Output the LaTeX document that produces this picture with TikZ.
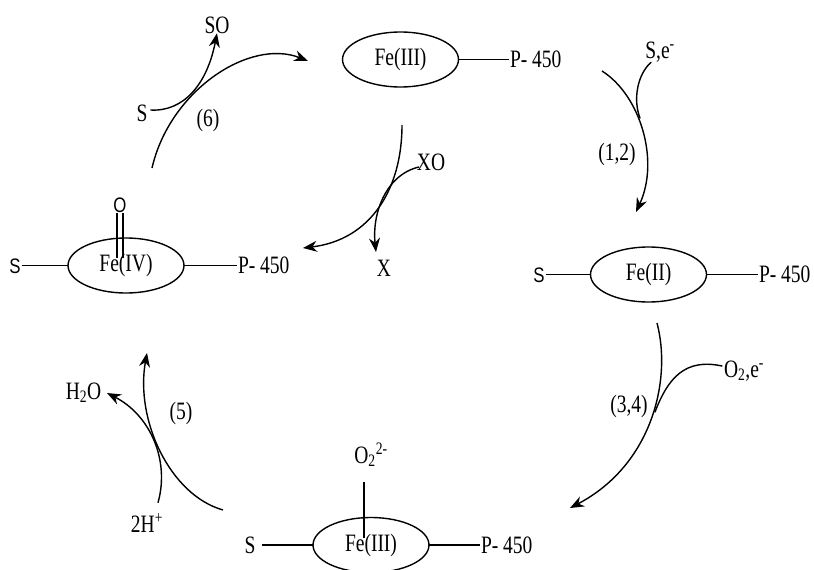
\documentclass[tikz,border=0pt]{standalone}
\usepackage{fontspec}
\setmainfont[FakeStretch=0.78]{Liberation Serif}
\newfontfamily\chemsans[FakeStretch=0.8]{Liberation Sans}
\usepackage{xcolor}
\usetikzlibrary{arrows.meta, positioning, shapes.geometric, calc}
\newcommand{\chemsize}{\fontsize{25}{28}\selectfont}
\begin{document}
\begin{tikzpicture}[
  x=1pt, y=-1pt,
  font=\chemsize,
  line width=1.4pt,
  haem/.style={ellipse, draw, minimum width=116pt, minimum height=55pt, inner sep=0pt, outer sep=0pt},
  chem/.style={inner sep=1pt, outer sep=0pt, text height=16.5pt, text depth=0pt},
  chemsf/.style={chem, text height=15pt, font=\chemsans\fontsize{21}{24}\selectfont},
  rxnarrow/.style={-{Stealth[length=14pt, width=11pt]}},
  rxnline/.style={line cap=round}
]
  \useasboundingbox (0,0) rectangle (814,570);
  % iron centres
  \node[haem] (fe3top) at (400.5,59.5) {Fe(III)};
  \node[haem] (fe2) at (648.5,274.5) {Fe(II)};
  \node[haem] (fe3bot) at (371,545) {Fe(III)};
  \node[haem] (fe4) at (126,265.5) {Fe(IV)};
  % ligands
  \node[chem, anchor=west] (p3top) at (509,59.5) {P- 450};
  \node[chem, anchor=west] (p2) at (758,274.5) {P- 450};
  \node[chem, anchor=west] (p3bot) at (480,545) {P- 450};
  \node[chem, anchor=west] (p4) at (237,265.5) {P- 450};
  \node[chemsf] (s2) at (539,274.5) {S};
  \node[chem] (s3bot) at (250,545) {S};
  \node[chemsf] (s4) at (15,265.5) {S};
  \node[chemsf] (o4) at (120,204.5) {O};
  \node[chem] (o3) at (371,455) {O\textsubscript{2}\textsuperscript{2-}};
  \coordinate (o4end) at (120,258);
  \coordinate (o3top) at (364,482);
  \coordinate (o3end) at (364,538);
  \draw (p3top.west) -- (fe3top.east);
  \draw (s2.east) -- (fe2.west);
  \draw (fe2.east) -- (p2.west);
  \draw (s3bot.east) ++(6,0) -- (fe3bot.west);
  \draw (fe3bot.east) -- (p3bot.west);
  \draw (s4.east) -- (fe4.west);
  \draw (fe4.east) -- (p4.west);
  \draw ([xshift=-3pt]o4.south) -- ([xshift=-3pt]o4end);
  \draw ([xshift=3pt]o4.south) -- ([xshift=3pt]o4end);
  \draw (o3top) -- (o3end);
  % species on the cycle
  \node[chem] (sub) at (142,113) {S};
  \node[chem] (so) at (217,25) {SO};
  \node[chem] (xo) at (431,162) {XO};
  \node[chem] (x) at (384,268) {X};
  \node[chem] (se) at (660,50) {S,e\textsuperscript{-}};
  \node[chem, anchor=west] (o2e) at (723,369) {O\textsubscript{2},e\textsuperscript{-}};
  \node[chem] (h2o) at (83.5,391) {H\textsubscript{2}O};
  \node[chem] (hplus) at (147,524) {2H\textsuperscript{+}};
  % step numbers
  \node[chem] (n6) at (208,118) {(6)};
  \node[chem] (n12) at (617,152) {(1,2)};
  \node[chem] (n34) at (629,404) {(3,4)};
  \node[chem] (n5) at (181,411) {(5)};
  % ends of the curves
  \coordinate (a1) at (152,168);
  \coordinate (a2) at (308,61);
  \coordinate (b1) at (402,125);
  \coordinate (b2) at (303,248);
  \coordinate (c1) at (602,71);
  \coordinate (c2) at (636,212);
  \coordinate (c3) at (640,118);
  \coordinate (d1) at (657,323);
  \coordinate (d2) at (570,508);
  \coordinate (d3) at (655,412);
  \coordinate (e1) at (223,510);
  \coordinate (e2) at (147,353);
  % main cycle
  \draw[rxnarrow] (a1) .. controls (170,90) and (250,38) .. (a2);
  \draw[rxnarrow] (b1) .. controls (402,190) and (370,240) .. (b2);
  \draw[rxnarrow] (c1) .. controls (640,95) and (660,160) .. (c2);
  \draw[rxnarrow] (d1) .. controls (672,380) and (652,465) .. (d2);
  \draw[rxnarrow] (e1) .. controls (170,495) and (135,420) .. (e2);
  % side branches
  \draw[rxnarrow] (sub.east) ++(2,-3) .. controls (183,112) and (207,85) .. ([yshift=1pt]so.south);
  \draw[rxnarrow] (xo.west) ++(3,5) .. controls (385,175) and (372,215) .. (376,252);
  \draw[rxnline] (se.south) ++(-9,3) .. controls (637,75) and (633,100) .. (c3);
  \draw[rxnline] (o2e.west) ++(-1,-3) .. controls (685,358) and (668,378) .. (d3);
  \draw[rxnarrow] (hplus.north) ++(11,-12) .. controls (170,460) and (150,415) .. (107,393);
\end{tikzpicture}
\end{document}
